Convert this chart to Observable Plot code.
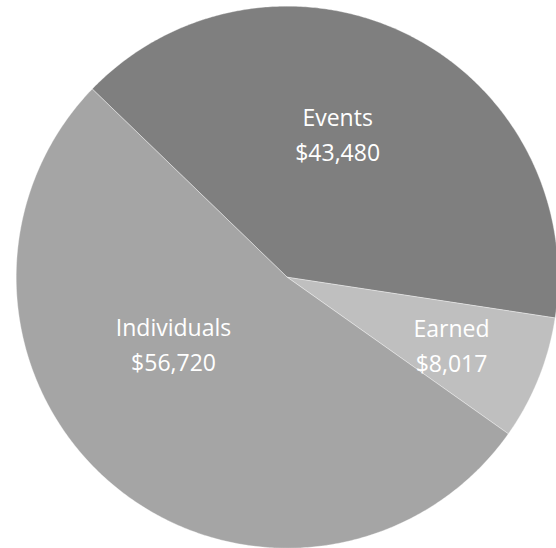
<!DOCTYPE html>
<html>
<head>
<meta charset="utf-8">
<script src="https://cdn.jsdelivr.net/npm/d3@7"></script>
<script src="https://cdn.jsdelivr.net/npm/@observablehq/plot@0.6"></script>
<style>
  html, body { margin: 0; padding: 0; background: #ffffff; overflow: hidden; }
  #chart svg { display: block; }
</style>
</head>
<body>
<div id="chart"></div>
<script>
// ---- data ----
const categories = ["Events", "Earned", "Individuals"];
const amounts = [43480, 8017, 56720];
const sliceColors = ["#7f7f7f", "#bfbfbf", "#a5a5a5"];

// ---- layout (not data) ----
const W = 556, H = 548;
const cx = 286.7, cy = 276.7, R = 271;
const startDeg = -46;             // first slice begins here (clockwise from 12 o'clock)
const labelLayout = {             // label angle offset (deg) from slice middle, radius fraction
  Events: {dAngle: -7.1, radius: 0.565},
  Earned: {dAngle: 0, radius: 0.654},
  Individuals: {dAngle: 20.4, radius: 0.484}
};

const rad = d => d * Math.PI / 180;
const table = categories.map((c, i) => ({category: c, value: amounts[i]}));
const arcs = d3.pie().sort(null).value(d => d.value)
  .startAngle(rad(startDeg)).endAngle(rad(startDeg) + 2 * Math.PI)(table);

// polygon vertices in unit (data) space, sampled along each arc
const polys = [];
arcs.forEach(a => {
  const cat = a.data.category;
  polys.push({category: cat, x: 0, y: 0});
  const n = Math.max(2, Math.ceil((a.endAngle - a.startAngle) / rad(0.5)));
  for (let k = 0; k <= n; k++) {
    const t = a.startAngle + (a.endAngle - a.startAngle) * k / n;
    polys.push({category: cat, x: Math.sin(t), y: Math.cos(t)});
  }
  polys.push({category: cat, x: 0, y: 0});
});

const fmt = d3.format("$,");
const labels = arcs.map(a => {
  const L = labelLayout[a.data.category];
  const t = (a.startAngle + a.endAngle) / 2 + rad(L.dAngle);
  return {
    x: L.radius * Math.sin(t),
    y: L.radius * Math.cos(t),
    text: a.data.category + "\n" + fmt(a.data.value)
  };
});

const chart = Plot.plot({
  width: W,
  height: H,
  margin: 0,
  x: {domain: [-1, 1], range: [cx - R, cx + R], axis: null},
  y: {domain: [-1, 1], range: [cy + R, cy - R], axis: null},
  color: {domain: categories, range: sliceColors},
  style: {background: "#ffffff", fontFamily: "'Open Sans', sans-serif"},
  marks: [
    Plot.line(polys, {x: "x", y: "y", z: "category", fill: "category",
      stroke: "#ffffff", strokeWidth: 0.6, strokeOpacity: 0.6, curve: "linear"}),
    Plot.text(labels, {x: "x", y: "y", text: "text", fill: "#ffffff",
      fontSize: 23, lineHeight: 1.52, textAnchor: "middle",
      fontFamily: "'Open Sans', sans-serif"})
  ]
});
document.getElementById("chart").appendChild(chart);
</script>
</body>
</html>
